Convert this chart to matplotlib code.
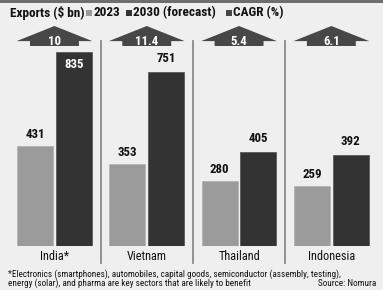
import matplotlib
matplotlib.use("Agg")
import matplotlib.pyplot as plt
from matplotlib.patches import Polygon, Rectangle
import numpy as np

countries = ["India*", "Vietnam", "Thailand", "Indonesia"]
exports_2023 = [431, 353, 280, 259]
exports_2030 = [835, 751, 405, 392]
cagr = ["10", "11.4", "5.4", "6.1"]

legend_title = "Exports ($ bn)"
legend_labels = ["2023", "2030 (forecast)", "CAGR (%)"]
footnote1 = "*Electronics (smartphones), automobiles, capital goods, semiconductor (assembly, testing),"
footnote2 = "energy (solar), and pharma are key sectors that are likely to benefit"
source = "Source: Nomura"

BG = "#efefef"
LIGHT = "#9b9b9b"
DARK = "#333333"
ARROW = "#474747"
SEP = "#8a8a8a"
FONT = ["Roboto Condensed", "Roboto", "DejaVu Sans"]

W, H = 383, 290
fig = plt.figure(figsize=(W / 100, H / 100), dpi=100, facecolor=BG)


def fx(px):
    return px / W


def fy(py):
    return 1 - py / H


# top strip
fig.patches.append(Rectangle((0, fy(3)), 1, 3 / H, transform=fig.transFigure,
                             facecolor="#6e6e6e", edgecolor="none"))

# axes: baseline at y=246px, x from 8 to 378
base_px = 246
top_px = 13.7
ax = fig.add_axes([fx(8.3), 1 - base_px / H, fx(377.5) - fx(8.3), (base_px - top_px) / H])
ax.set_facecolor(BG)
ax.set_xlim(-0.5, 3.5)
ax.set_ylim(0, 1000)
ax.axis("off")

x = np.arange(len(countries))
bw = 0.39
off = 0.21
ax.bar(x - off, exports_2023, bw, color=LIGHT, edgecolor="#b4b4b4", linewidth=0.6)
ax.bar(x + off, exports_2030, bw, color=DARK, edgecolor="#5a5a5a", linewidth=0.6)

for i in range(len(countries)):
    ax.annotate(str(exports_2023[i]), (x[i] - off, exports_2023[i]), xytext=(0, 3.5),
                textcoords="offset points", ha="center", va="bottom",
                fontsize=9.3, fontweight="bold", family=FONT, color="#111111")
    if exports_2030[i] > 800:
        ax.annotate(str(exports_2030[i]), (x[i] + off, exports_2030[i]), xytext=(0, -4.5),
                    textcoords="offset points", ha="center", va="top",
                    fontsize=9.3, fontweight="bold", family=FONT, color="white")
    else:
        ax.annotate(str(exports_2030[i]), (x[i] + off, exports_2030[i]), xytext=(0, 5),
                    textcoords="offset points", ha="center", va="bottom",
                    fontsize=9.3, fontweight="bold", family=FONT, color="#111111")

# arrows with CAGR
peak, wing, boxb = 947, 882, 861
tw, bxw = 0.41, 0.265
for i in range(len(countries)):
    c = x[i]
    poly = Polygon([(c - tw, wing), (c, peak), (c + tw, wing), (c + bxw, wing),
                    (c + bxw, boxb), (c - bxw, boxb), (c - bxw, wing)],
                   closed=True, facecolor=ARROW, edgecolor="none", clip_on=False)
    ax.add_patch(poly)
    ax.text(c, 880, cagr[i], ha="center", va="center", fontsize=9.3,
            fontweight="bold", family=FONT, color="white")

# separators
for s in [0.5, 1.5, 2.5]:
    ax.plot([s, s], [-73, 882], color=SEP, linewidth=1.3, clip_on=False)

# category labels
for i in range(len(countries)):
    ax.annotate(countries[i], (x[i], 0), xytext=(0, -3), textcoords="offset points",
                ha="center", va="top", fontsize=8.8, family=FONT, color="#111111")

# legend header
fig.text(fx(10), fy(13), legend_title, ha="left", va="center", fontsize=9.5,
         family=FONT, fontweight="bold", color="#111111")
sq = [(86, LIGHT), (126, DARK), (226, ARROW)]
tx = [94, 133, 233]
for (sx, col), t, lab in zip(sq, tx, legend_labels):
    fig.patches.append(Rectangle((fx(sx), fy(16)), 6 / W, 6 / H, transform=fig.transFigure,
                                 facecolor=col, edgecolor="none"))
    fig.text(fx(t), fy(13), lab, ha="left", va="center", fontsize=9.5,
             family=FONT, fontweight="bold", color="#111111")

# footnotes
fig.text(fx(8), fy(274.5), footnote1, ha="left", va="center", fontsize=6.6,
         family=FONT, color="#111111")
fig.text(fx(8), fy(283.5), footnote2, ha="left", va="center", fontsize=6.6,
         family=FONT, color="#111111")
fig.text(fx(376), fy(283.5), source, ha="right", va="center", fontsize=6.6,
         family=FONT, color="#111111")

fig.savefig("out.png", dpi=100, facecolor=BG)
